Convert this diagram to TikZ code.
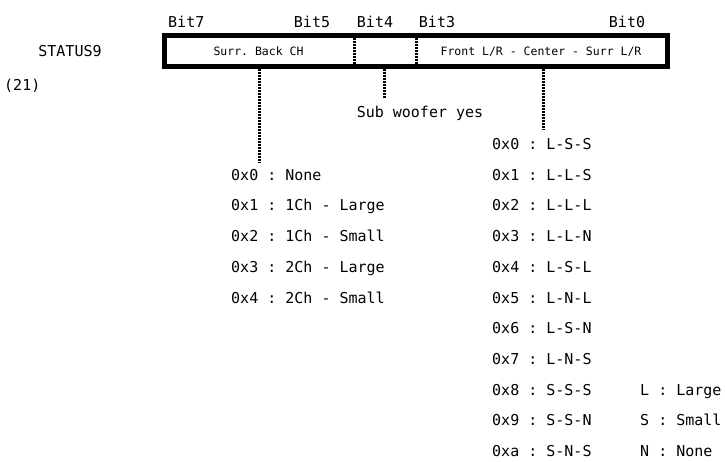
\documentclass[tikz,border=0pt]{standalone}
\usepackage{fontspec}
\setmonofont{DejaVu Sans Mono}

\tikzset{
  txt/.style={font=\ttfamily\fontsize{15}{15}\selectfont, inner sep=0pt, text height=11pt, text depth=0pt},
  fieldtxt/.style={font=\ttfamily\fontsize{11.5}{11.5}\selectfont, inner sep=0pt, text height=8.5pt, text depth=0pt},
  regbox/.style={line width=5pt},
  sepline/.style={line width=3pt, dash pattern=on 2pt off 1pt},
}

\begin{document}
\begin{tikzpicture}[x=1pt,y=-1pt]
				%%%%% START %%%%%
				\useasboundingbox (0,0) rectangle (725,461);
				\def\btop{35.5}
				\def\bbot{66.5}
				\def\rs{30.7}
				\def\xl{231}
				\def\xr{492}

				% register box
				\draw[regbox] (164.5,\btop) rectangle (667.5,\bbot);
				\draw[sepline] (354,38) -- (354,64);
				\draw[sepline] (416,38) -- (416,64);

				\node[fieldtxt] (surr) at (258.5,51) {Surr. Back CH};
				\node[fieldtxt] (front) at (541,51) {Front L/R - Center - Surr L/R};

				\node[txt,anchor=west] (b7) at (168,22) {Bit7};
				\node[txt] (b5) at (312,22) {Bit5};
				\node[txt] (b4) at (375,22) {Bit4};
				\node[txt] (b3) at (437,22) {Bit3};
				\node[txt] (b0) at (627,22) {Bit0};

				\node[txt] (stat) at (70,51) {STATUS9};
				\node[txt,anchor=west] (num) at (4,85) {(21)};

				\coordinate (surrb) at (259,69);
				\coordinate (subb) at (384,69);
				\coordinate (frontb) at (543,69);

				\node[txt] (sub) at (420,112) {Sub woofer yes};

				% surr back list
				\node[txt,anchor=west] (l0) at (\xl,{144+\rs}) {0x0 : None};
				\node[txt,anchor=west] (l1) at (\xl,{144+2*\rs}) {0x1 : 1Ch - Large};
				\node[txt,anchor=west] (l2) at (\xl,{144+3*\rs}) {0x2 : 1Ch - Small};
				\node[txt,anchor=west] (l3) at (\xl,{144+4*\rs}) {0x3 : 2Ch - Large};
				\node[txt,anchor=west] (l4) at (\xl,{144+5*\rs}) {0x4 : 2Ch - Small};

				% front list
				\node[txt,anchor=west] (r0) at (\xr,144) {0x0 : L-S-S};
				\node[txt,anchor=west] (r1) at (\xr,{144+\rs}) {0x1 : L-L-S};
				\node[txt,anchor=west] (r2) at (\xr,{144+2*\rs}) {0x2 : L-L-L};
				\node[txt,anchor=west] (r3) at (\xr,{144+3*\rs}) {0x3 : L-L-N};
				\node[txt,anchor=west] (r4) at (\xr,{144+4*\rs}) {0x4 : L-S-L};
				\node[txt,anchor=west] (r5) at (\xr,{144+5*\rs}) {0x5 : L-N-L};
				\node[txt,anchor=west] (r6) at (\xr,{144+6*\rs}) {0x6 : L-S-N};
				\node[txt,anchor=west] (r7) at (\xr,{144+7*\rs}) {0x7 : L-N-S};
				\node[txt,anchor=west] (r8) at (\xr,{144+8*\rs}) {0x8 : S-S-S};
				\node[txt,anchor=west] (r9) at (\xr,{144+9*\rs}) {0x9 : S-S-N};
				\node[txt,anchor=west] (ra) at (\xr,{144+10*\rs}) {0xa : S-N-S};

				\node[txt,anchor=west] (kl) at (640,{144+8*\rs}) {L : Large};
				\node[txt,anchor=west] (ks) at (640,{144+9*\rs}) {S : Small};
				\node[txt,anchor=west] (kn) at (640,{144+10*\rs}) {N : None};

				% connectors
				\draw[sepline] (surrb) -- ([yshift=6pt]surrb |- l0.north);
				\draw[sepline] (subb) -- ([yshift=8pt]subb |- sub.north);
				\draw[sepline] (frontb) -- ([yshift=8pt]frontb |- r0.north);
				%%%%% START %%%%%
\end{tikzpicture}
\end{document}
